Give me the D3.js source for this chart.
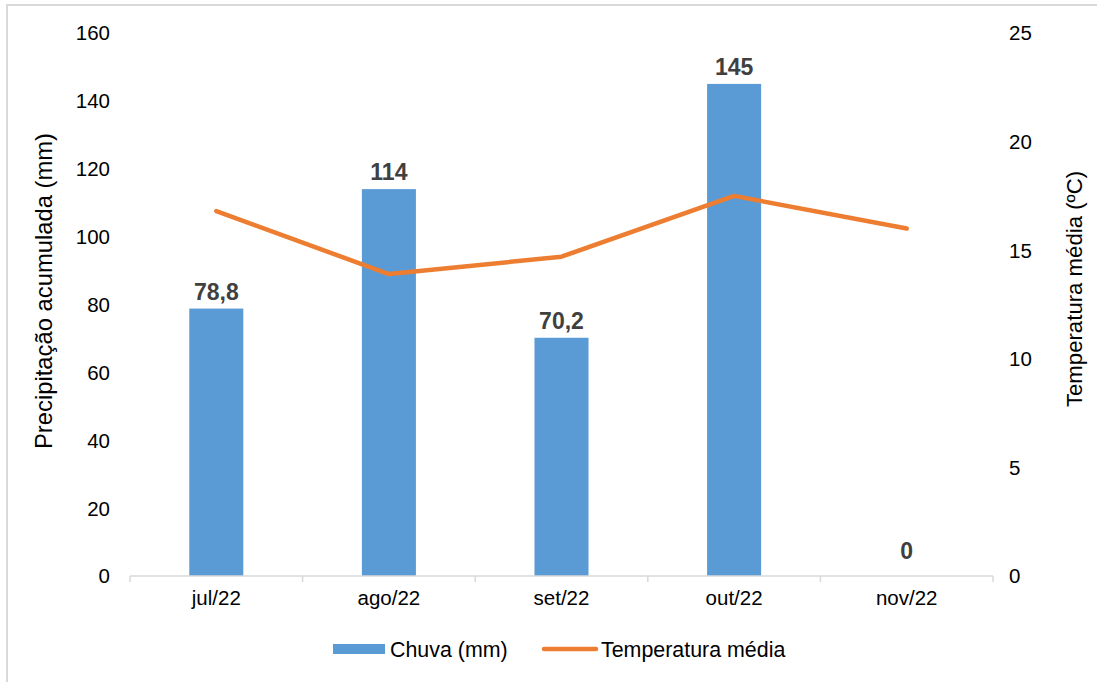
<!DOCTYPE html>
<html>
<head>
<meta charset="utf-8">
<script src="https://cdn.jsdelivr.net/npm/d3@7"></script>
<style>
  html, body { margin: 0; padding: 0; background: #fff; }
  svg { display: block; }
  text { font-family: "Liberation Sans", Arial, sans-serif; }
</style>
</head>
<body>
<svg id="chart" width="1097" height="682"></svg>
<script>
const categories = ["jul/22", "ago/22", "set/22", "out/22", "nov/22"];
const chuva = [78.8, 114, 70.2, 145, 0];
const chuvaLabels = ["78,8", "114", "70,2", "145", "0"];
const temperatura = [16.8, 13.9, 14.7, 17.5, 16.0];
const leftTicks = [0, 20, 40, 60, 80, 100, 120, 140, 160];
const rightTicks = [0, 5, 10, 15, 20, 25];

const svg = d3.select("#chart");
const plot = { left: 130, right: 993, top: 33, bottom: 576 };

// chart border (top + left visible)
svg.append("rect")
  .attr("x", 7).attr("y", 5)
  .attr("width", 1300).attr("height", 900)
  .attr("fill", "none").attr("stroke", "#d9d9d9").attr("stroke-width", 2);

const x = d3.scaleBand().domain(categories)
  .range([plot.left, plot.right])
  .paddingInner(0.687).paddingOuter(0.687 / 2);
const step = x.step();
const yL = d3.scaleLinear().domain([0, 160]).range([plot.bottom, plot.top]);
const yR = d3.scaleLinear().domain([0, 25]).range([plot.bottom, plot.top]);

// bars
svg.append("g").selectAll("rect").data(chuva).join("rect")
  .attr("x", (d, i) => x(categories[i]))
  .attr("y", d => yL(d))
  .attr("width", x.bandwidth())
  .attr("height", d => yL(0) - yL(d))
  .attr("fill", "#5b9bd5");

// x axis line and ticks
const gx = svg.append("g");
gx.append("line")
  .attr("x1", plot.left).attr("x2", plot.right)
  .attr("y1", plot.bottom).attr("y2", plot.bottom)
  .attr("stroke", "#d9d9d9").attr("stroke-width", 1.5);
const boundaries = d3.range(categories.length + 1).map(i => plot.left + i * step);
gx.selectAll("line.tick").data(boundaries).join("line")
  .attr("class", "tick")
  .attr("x1", d => d).attr("x2", d => d)
  .attr("y1", plot.bottom).attr("y2", plot.bottom + 6)
  .attr("stroke", "#d9d9d9").attr("stroke-width", 1.5);
gx.selectAll("text").data(categories).join("text")
  .attr("x", d => x(d) + x.bandwidth() / 2)
  .attr("y", plot.bottom + 29)
  .attr("text-anchor", "middle")
  .attr("font-size", "20.5px")
  .attr("fill", "#000")
  .text(d => d);

// left ticks
svg.append("g").selectAll("text").data(leftTicks).join("text")
  .attr("x", 110).attr("y", d => yL(d))
  .attr("dy", "0.36em")
  .attr("text-anchor", "end")
  .attr("font-size", "20.5px")
  .attr("fill", "#000")
  .text(d => d);

// right ticks
svg.append("g").selectAll("text").data(rightTicks).join("text")
  .attr("x", 1009).attr("y", d => yR(d))
  .attr("dy", "0.36em")
  .attr("text-anchor", "start")
  .attr("font-size", "20.5px")
  .attr("fill", "#000")
  .text(d => d);

// axis titles
svg.append("text")
  .attr("transform", "translate(52,291) rotate(-90)")
  .attr("text-anchor", "middle")
  .attr("font-size", "23.8px")
  .attr("fill", "#000")
  .text("Precipitação acumulada (mm)");
svg.append("text")
  .attr("transform", "translate(1082,289) rotate(-90)")
  .attr("text-anchor", "middle")
  .attr("font-size", "22.2px")
  .attr("fill", "#000")
  .text("Temperatura média (ºC)");

// temperature line
const line = d3.line()
  .x((d, i) => x(categories[i]) + x.bandwidth() / 2)
  .y(d => yR(d));
svg.append("path")
  .datum(temperatura)
  .attr("d", line)
  .attr("fill", "none")
  .attr("stroke", "#ed7d31")
  .attr("stroke-width", 4.5)
  .attr("stroke-linejoin", "round")
  .attr("stroke-linecap", "round");

// data labels
svg.append("g").selectAll("text").data(chuva).join("text")
  .attr("x", (d, i) => x(categories[i]) + x.bandwidth() / 2)
  .attr("y", d => yL(d) - (d === 0 ? 17 : 9))
  .attr("text-anchor", "middle")
  .attr("font-size", "23px")
  .attr("font-weight", "bold")
  .attr("fill", "#404040")
  .text((d, i) => chuvaLabels[i]);

// legend
const lg = svg.append("g");
lg.append("rect")
  .attr("x", 333).attr("y", 644).attr("width", 52).attr("height", 10)
  .attr("fill", "#5b9bd5");
lg.append("text")
  .attr("x", 390).attr("y", 657)
  .attr("font-size", "21.4px").attr("fill", "#000")
  .text("Chuva (mm)");
lg.append("line")
  .attr("x1", 544).attr("x2", 596).attr("y1", 649).attr("y2", 649)
  .attr("stroke", "#ed7d31").attr("stroke-width", 4.5)
  .attr("stroke-linecap", "round");
lg.append("text")
  .attr("x", 601).attr("y", 657)
  .attr("font-size", "21.4px").attr("fill", "#000")
  .text("Temperatura média");
</script>
</body>
</html>
